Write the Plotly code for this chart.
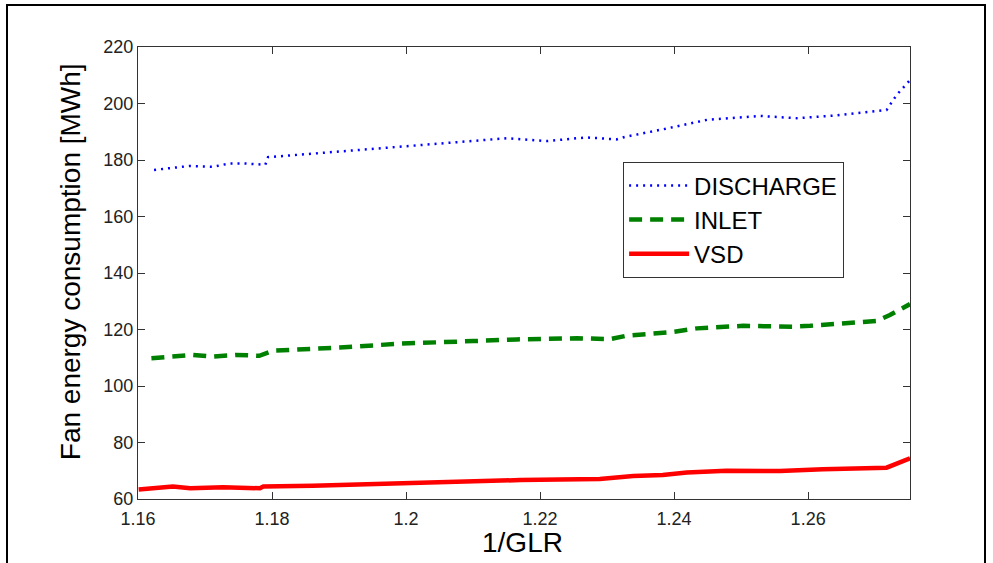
import plotly.graph_objects as go

# ---- data ----
discharge_x = [1.1624, 1.1678, 1.1712, 1.1737, 1.1757, 1.1777, 1.1790, 1.1794, 1.1956, 1.2046,
               1.2105, 1.2150, 1.2210, 1.2269, 1.2314, 1.2327, 1.2384, 1.2449, 1.2528, 1.2583,
               1.2637, 1.2687, 1.2717, 1.2732, 1.2752]
discharge_y = [176.5, 177.9, 177.6, 178.8, 178.8, 178.5, 178.3, 181.0, 184.1, 185.8,
               186.7, 187.7, 186.7, 188.0, 187.3, 188.2, 190.9, 194.2, 195.6, 194.8,
               195.7, 196.9, 197.7, 203.0, 208.3]

inlet_x = [1.1620, 1.1647, 1.1682, 1.1711, 1.1746, 1.1781, 1.1802, 1.1901, 1.1991, 1.2100,
           1.2165, 1.2255, 1.2304, 1.2329, 1.2394, 1.2434, 1.2503, 1.2578, 1.2603, 1.2702,
           1.2722, 1.2752]
inlet_y = [109.8, 110.4, 111.0, 110.4, 111.0, 110.7, 112.5, 113.6, 115.0, 115.9,
           116.5, 116.9, 116.6, 117.8, 119.0, 120.4, 121.3, 121.0, 121.3, 123.0,
           125.1, 129.0]

vsd_x = [1.1601, 1.1652, 1.1678, 1.1727, 1.1782, 1.1787, 1.1861, 1.1901, 1.1976, 1.2025,
         1.2105, 1.2170, 1.2289, 1.2339, 1.2383, 1.2419, 1.2478, 1.2558, 1.2622, 1.2717,
         1.2752]
vsd_y = [63.4, 64.4, 63.8, 64.2, 63.8, 64.4, 64.7, 65.0, 65.3, 65.8,
         66.5, 66.7, 67.1, 68.1, 68.5, 69.4, 70.0, 69.9, 70.5, 71.1,
         74.4]

x_ticks = [1.16, 1.18, 1.20, 1.22, 1.24, 1.26]
x_tick_labels = ["1.16", "1.18", "1.2", "1.22", "1.24", "1.26"]
y_ticks = [60, 80, 100, 120, 140, 160, 180, 200, 220]

FONT = "Liberation Sans, Arial, sans-serif"

fig = go.Figure()
fig.add_trace(go.Scatter(x=discharge_x, y=discharge_y, mode="lines", name="DISCHARGE",
                         line=dict(color="#0000ff", width=2.5, dash="2px,5px")))
fig.add_trace(go.Scatter(x=inlet_x, y=inlet_y, mode="lines", name="INLET",
                         line=dict(color="#008000", width=4.5, dash="13px,8px")))
fig.add_trace(go.Scatter(x=vsd_x, y=vsd_y, mode="lines", name="VSD",
                         line=dict(color="#ff0000", width=4.5)))

axis_common = dict(showgrid=False, zeroline=False, showline=True, linecolor="#333333",
                   linewidth=1.3, mirror="ticks", ticks="inside", ticklen=7,
                   tickcolor="#333333", tickwidth=1.3,
                   tickfont=dict(family=FONT, size=18, color="#222222"))

fig.update_xaxes(range=[1.16, 1.2752], tickvals=x_ticks, ticktext=x_tick_labels,
                 ticklabelstandoff=3, **axis_common)
fig.update_yaxes(range=[60, 220], tickvals=y_ticks, **axis_common)

fig.update_layout(
    width=993, height=563,
    margin=dict(l=138, r=83, t=47, b=64),
    plot_bgcolor="white", paper_bgcolor="white",
    showlegend=True,
    legend=dict(x=0.628, y=0.7456, xanchor="left", yanchor="top",
                bgcolor="white", bordercolor="#333333", borderwidth=1.3,
                font=dict(family=FONT, size=24, color="#000000"),
                itemwidth=60),
    annotations=[
        dict(text="Fan energy consumption [MWh]", xref="paper", yref="paper",
             x=-0.088, y=0.524, xanchor="center", yanchor="middle", textangle=-90,
             showarrow=False, font=dict(family=FONT, size=28, color="#000000")),
        dict(text="1/GLR", xref="paper", yref="paper",
             x=0.4987, y=-0.097, xanchor="center", yanchor="middle",
             showarrow=False, font=dict(family=FONT, size=28, color="#000000")),
    ],
    shapes=[
        dict(type="rect", xref="paper", yref="paper",
             x0=(7 - 138) / 772, x1=(985 - 138) / 772,
             y0=(499 - 600) / 452, y1=(499 - 5) / 452,
             line=dict(color="#000000", width=2), layer="above"),
    ],
)

fig.write_html("out.html")
